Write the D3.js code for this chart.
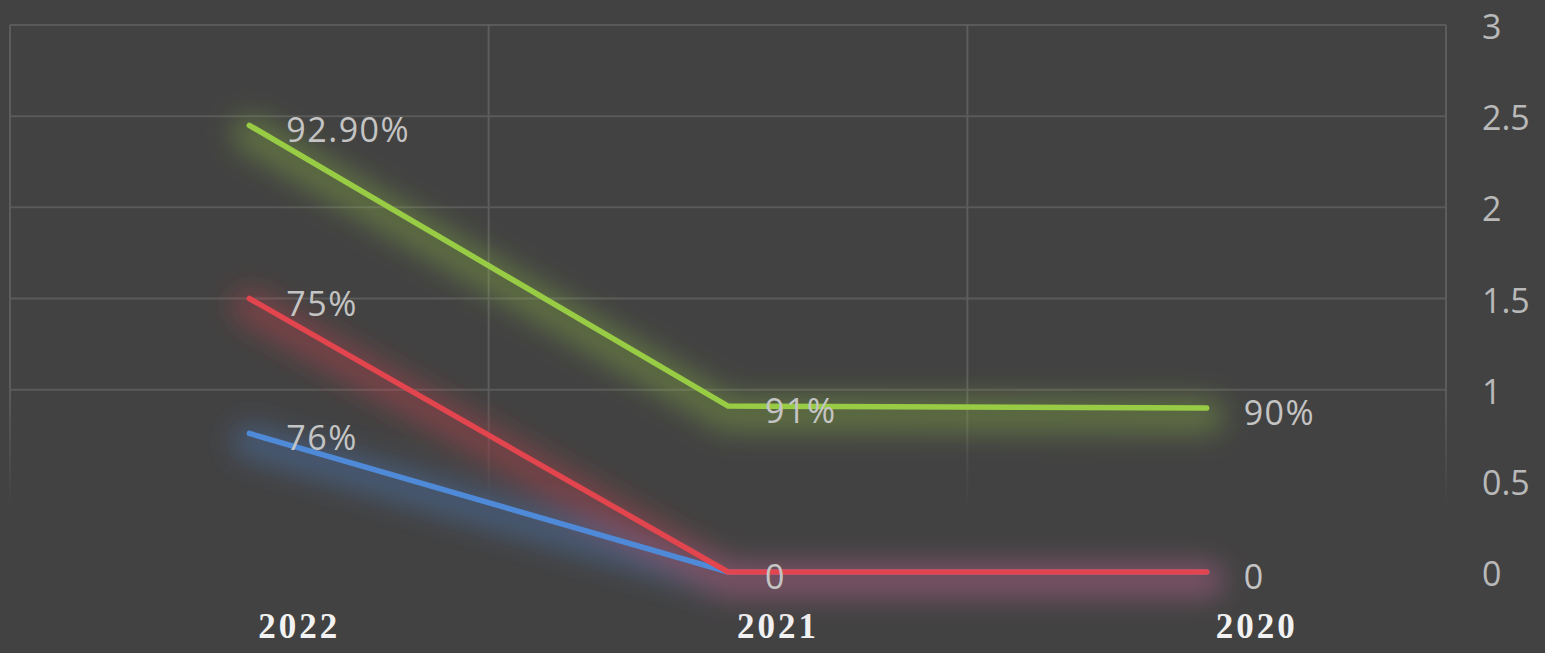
<!DOCTYPE html>
<html>
<head>
<meta charset="utf-8">
<script src="https://cdn.jsdelivr.net/npm/d3@7"></script>
<style>
  html, body { margin: 0; padding: 0; background: #424242; }
  svg { display: block; }
</style>
</head>
<body>
<script>
(function () {
  "use strict";
  var w = 1545,
      h = 653;

  var years = ["2022", "2021", "2020"];
  var blueValues = [0.76, 0, 0];
  var redValues = [1.5, 0, 0];
  var greenValues = [2.45, 0.91, 0.90];
  var blueLabels = ["76%", "", ""];
  var redLabels = ["75%", "0", "0"];
  var greenLabels = ["92.90%", "91%", "90%"];
  var yTicks = [0, 0.5, 1, 1.5, 2, 2.5, 3];
  var gridTicks = [1, 1.5, 2, 2.5, 3];

  var series = [
    { name: "blue", values: blueValues, labels: blueLabels, color: "#4f8ad9" },
    { name: "red", values: redValues, labels: redLabels, color: "#e2454d" },
    { name: "green", values: greenValues, labels: greenLabels, color: "#98cc45" }
  ];

  var left = 10, right = 1446, top = 25, bottom = 572;

  var x = d3.scaleBand().domain(years).range([left, right]);
  var y = d3.scaleLinear().domain([0, 3]).range([bottom, top]);
  var cx = d => x(d) + x.bandwidth() / 2;

  var svg = d3.select("body")
              .append("svg")
              .attr("width", w)
              .attr("height", h);

  var defs = svg.append("defs");
  defs.append("filter")
      .attr("id", "glow")
      .attr("x", "-20%").attr("y", "-40%")
      .attr("width", "140%").attr("height", "180%")
      .append("feGaussianBlur")
      .attr("stdDeviation", 14);

  var fade = defs.append("linearGradient")
      .attr("id", "vfade")
      .attr("gradientUnits", "userSpaceOnUse")
      .attr("x1", 0).attr("x2", 0)
      .attr("y1", top).attr("y2", y(0.35));
  fade.append("stop").attr("offset", "0.75").attr("stop-color", "#5c5c5c").attr("stop-opacity", 1);
  fade.append("stop").attr("offset", "1").attr("stop-color", "#5c5c5c").attr("stop-opacity", 0);

  // gridlines
  svg.append("g")
     .selectAll("line")
     .data(gridTicks)
     .enter()
     .append("line")
     .attr("x1", left)
     .attr("x2", right)
     .attr("y1", d => y(d))
     .attr("y2", d => y(d))
     .attr("stroke", "#5a5a5a")
     .attr("stroke-width", 2);

  var vx = years.map(d => x(d)).concat([right]);
  svg.append("g")
     .selectAll("line")
     .data(vx)
     .enter()
     .append("line")
     .attr("x1", d => d)
     .attr("x2", d => d + 0.01)
     .attr("y1", top)
     .attr("y2", y(0.35))
     .attr("stroke", "url(#vfade)")
     .attr("stroke-width", 2);

  // right axis
  var yAxis = d3.axisRight(y).tickValues(yTicks).tickSize(0).tickPadding(0)
                .tickFormat(d => String(d));
  var ax = svg.append("g")
              .attr("transform", "translate(1482,0)")
              .call(yAxis);
  ax.select(".domain").remove();
  ax.selectAll("text")
    .attr("fill", "#b9b9b9")
    .attr("font-family", "'Open Sans', sans-serif")
    .attr("font-size", 34)
    .attr("dy", "0.4em");

  // x axis labels
  var xAxis = d3.axisBottom(x).tickSize(0).tickPadding(0);
  var bx = svg.append("g")
              .attr("transform", "translate(0,610)")
              .call(xAxis);
  bx.select(".domain").remove();
  bx.selectAll("text")
    .attr("fill", "#f2f2f2")
    .attr("font-family", "'Liberation Serif', serif")
    .attr("font-weight", "bold")
    .attr("font-size", 35)
    .attr("letter-spacing", 3)
    .attr("dx", 50)
    .attr("dy", "0.8em");

  var line = d3.line()
               .x((d, i) => cx(years[i]))
               .y(d => y(d));

  // glow halos
  var halo = svg.append("g").attr("filter", "url(#glow)");
  series.forEach(function (s) {
    halo.append("path")
        .datum(s.values)
        .attr("d", line)
        .attr("transform", "translate(0,8)")
        .attr("fill", "none")
        .attr("stroke", s.color)
        .attr("stroke-opacity", 0.35)
        .attr("stroke-width", 34)
        .attr("stroke-linejoin", "round")
        .attr("stroke-linecap", "round");
  });

  series.forEach(function (s) {
    svg.append("path")
       .datum(s.values)
       .attr("d", line)
       .attr("fill", "none")
       .attr("stroke", s.color)
       .attr("stroke-width", 5.5)
       .attr("stroke-linejoin", "miter")
       .attr("stroke-linecap", "round");
  });

  // data labels
  series.forEach(function (s) {
    svg.append("g")
       .selectAll("text")
       .data(s.values)
       .enter()
       .append("text")
       .attr("x", (d, i) => cx(years[i]) + 37)
       .attr("y", d => y(d) + 17)
       .attr("fill", "#c4c4c4")
       .attr("font-family", "'Open Sans', sans-serif")
       .attr("font-size", 34)
       .attr("letter-spacing", 1.5)
       .text((d, i) => s.labels[i]);
  });
})();
</script>
</body>
</html>
